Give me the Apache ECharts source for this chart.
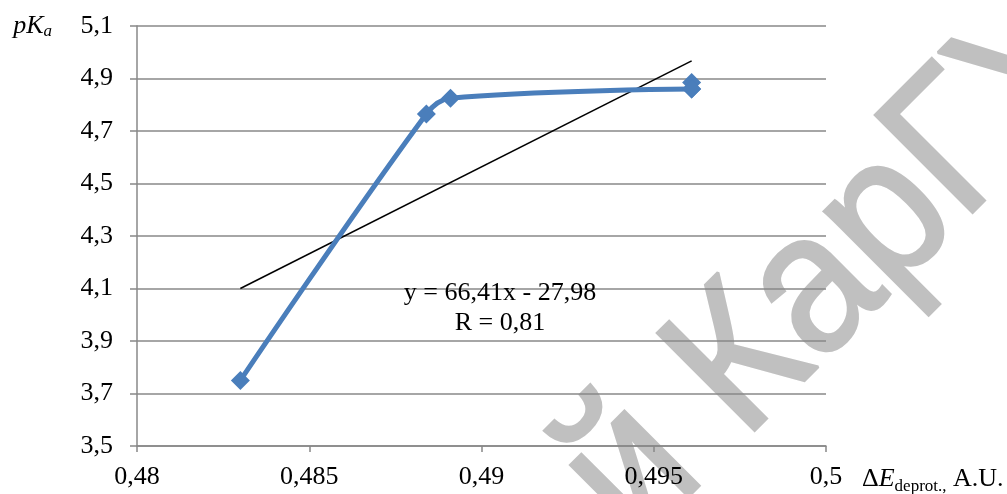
<!DOCTYPE html>
<html>
<head>
<meta charset="utf-8">
<script src="https://cdn.jsdelivr.net/npm/echarts@6/dist/echarts.min.js"></script>
<style>
html,body{margin:0;padding:0;background:#fff;}
#chart{width:1007px;height:494px;}
</style>
</head>
<body>
<div id="chart"></div>
<script>
// ---- data ----
const deltaE = [0.4830, 0.4884, 0.4891, 0.4961, 0.4961];
const pKa = [3.75, 4.765, 4.825, 4.86, 4.885];
const trendX = [0.4830, 0.4961];
const trendY = [4.10, 4.967];
const xTicks = [0.48, 0.485, 0.49, 0.495, 0.5];
const xTickLabels = ['0,48', '0,485', '0,49', '0,495', '0,5'];
const yTicks = [3.5, 3.7, 3.9, 4.1, 4.3, 4.5, 4.7, 4.9, 5.1];
const yTickLabels = ['3,5', '3,7', '3,9', '4,1', '4,3', '4,5', '4,7', '4,9', '5,1'];
const equationText = 'y = 66,41x - 27,98';
const rText = 'R = 0,81';
const watermarkText = 'КарГУ';
const watermarkPrefix = 'й ';

const serif = "'Liberation Serif', 'Times New Roman', serif";
const gridGray = '#888888';
const blue = '#4a7ebb';
const wmGray = '#c0c0c0';
const wmFont = "200px 'Liberation Sans', Arial, sans-serif";

const chart = echarts.init(document.getElementById('chart'), null, {renderer: 'canvas'});

function fmt(ticks, labels) {
  return function (v) {
    for (let i = 0; i < ticks.length; i++) {
      if (Math.abs(ticks[i] - v) < 1e-9) return labels[i];
    }
    return '';
  };
}

const points = deltaE.map((x, i) => [x, pKa[i]]);
const n = points.length;

const option = {
  backgroundColor: '#ffffff',
  animation: false,
  grid: {left: 137, right: 181, top: 26, bottom: 48, containLabel: false, outerBoundsMode: 'none'},
  xAxis: {
    type: 'value',
    min: 0.48, max: 0.5, interval: 0.005,
    axisLine: {show: true, lineStyle: {color: gridGray, width: 1.5}},
    axisTick: {show: true, inside: false, length: 6, lineStyle: {color: gridGray, width: 1.5}},
    splitLine: {show: false},
    axisLabel: {
      formatter: fmt(xTicks, xTickLabels),
      color: '#000', fontFamily: serif, fontSize: 26, margin: 18
    },
    name: '{d|Δ}{e|E}{s|deprot.,}{n| A.U.}',
    nameLocation: 'end',
    nameGap: 36,
    nameTextStyle: {
      align: 'left', verticalAlign: 'middle', padding: [66, 0, 0, 0],
      rich: {
        d: {fontFamily: serif, fontSize: 26, color: '#000', lineHeight: 40},
        e: {fontFamily: serif, fontSize: 26, fontStyle: 'italic', color: '#000', lineHeight: 40},
        s: {fontFamily: serif, fontSize: 17, color: '#000', padding: [15, 0, 0, 0]},
        n: {fontFamily: serif, fontSize: 26, color: '#000', lineHeight: 40}
      }
    }
  },
  yAxis: {
    type: 'value',
    min: 3.5, max: 5.1, interval: 0.1,
    axisLine: {show: true, lineStyle: {color: gridGray, width: 1.5}},
    axisTick: {show: true, inside: false, length: 7, customValues: yTicks, lineStyle: {color: gridGray, width: 1.5}},
    splitLine: {show: true, lineStyle: {color: gridGray, width: 1.5}},
    axisLabel: {
      customValues: yTicks,
      formatter: fmt(yTicks, yTickLabels),
      color: '#000', fontFamily: serif, fontSize: 26, margin: 24
    },
    name: '{p|pK}{a|a}',
    nameLocation: 'end',
    nameGap: 0,
    nameTextStyle: {
      align: 'right', verticalAlign: 'middle', padding: [0, 85, 0, 0],
      rich: {
        p: {fontFamily: serif, fontSize: 26, fontStyle: 'italic', color: '#000', lineHeight: 36},
        a: {fontFamily: serif, fontSize: 17, fontStyle: 'italic', color: '#000', padding: [12, 0, 0, 0]}
      }
    }
  },
  graphic: [
    {
      type: 'group',
      x: 705, y: 402,
      rotation: Math.PI / 4,
      scaleX: 0.91,
      z: -10,
      silent: true,
      children: [
        {type: 'text', x: 0, y: 0, z: -10,
         style: {text: watermarkText, fill: wmGray, stroke: wmGray, lineWidth: 3, font: wmFont, align: 'left', verticalAlign: 'middle'}},
        {type: 'text', x: 0, y: 0, z: -10,
         style: {text: watermarkPrefix, fill: wmGray, stroke: wmGray, lineWidth: 3, font: wmFont, align: 'right', verticalAlign: 'middle'}}
      ]
    },
    {
      type: 'text', x: 500, y: 278, z: 50,
      style: {text: equationText + '\n' + rText, fill: '#000', font: "26px " + serif, align: 'center', verticalAlign: 'top', lineHeight: 30}
    }
  ],
  series: [
    {
      type: 'line',
      data: trendX.map((x, i) => [x, trendY[i]]),
      symbol: 'none',
      lineStyle: {color: '#000', width: 1.5},
      z: 3,
      silent: true
    },
    {
      type: 'line',
      data: points.slice(n - 2),
      smooth: false,
      symbol: 'diamond',
      symbolSize: 19,
      lineStyle: {color: blue, width: 5},
      itemStyle: {color: blue},
      z: 4,
      silent: true
    },
    {
      type: 'line',
      data: points.slice(0, n - 1),
      smooth: 0.35,
      symbol: 'diamond',
      symbolSize: 19,
      lineStyle: {color: blue, width: 5},
      itemStyle: {color: blue},
      z: 4,
      silent: true
    }
  ]
};
chart.setOption(option);
</script>
</body>
</html>
